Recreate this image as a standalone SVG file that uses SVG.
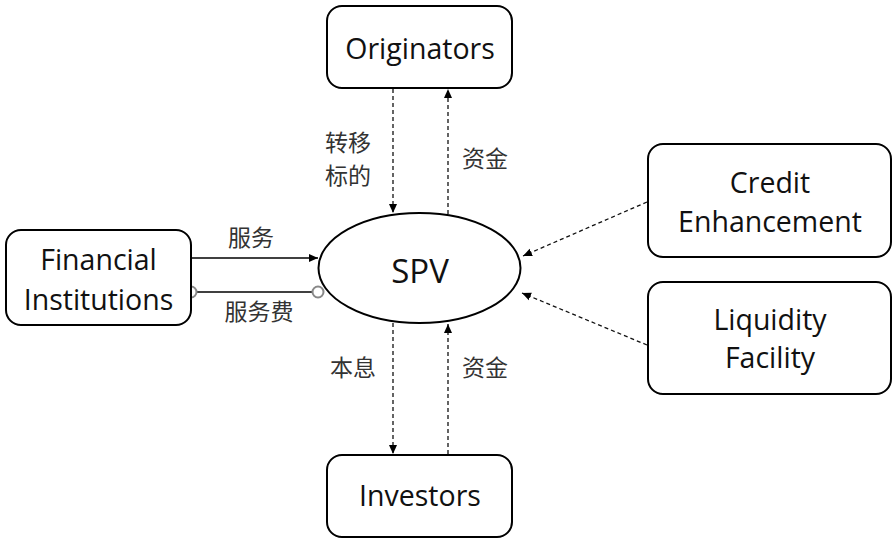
<svg xmlns="http://www.w3.org/2000/svg" width="893" height="538" viewBox="0 0 893 538">
<defs>
<marker id="ah" markerWidth="10" markerHeight="10" refX="9" refY="5" orient="auto" markerUnits="userSpaceOnUse">
<path d="M0,1 L9,5 L0,9 Z" fill="#000"/>
</marker>
<style>
.box{fill:#fff;stroke:#000;stroke-width:2}
.lbl{font-family:"Open Sans","Liberation Sans",sans-serif;font-size:28.5px;fill:#111;text-anchor:middle}
.cn{font-family:"Liberation Sans","Noto Sans CJK SC",sans-serif;font-size:23px;fill:#333;text-anchor:middle}
.dash{stroke:#111;stroke-width:1.3;stroke-dasharray:4,3;fill:none}
.solid{stroke:#000;stroke-width:1.5;fill:none}
</style>
</defs>
<rect width="893" height="538" fill="#fff"/>
<g id="connectors">
<line class="dash" x1="393" y1="89" x2="393" y2="213" marker-end="url(#ah)"/>
<line class="dash" x1="448" y1="214" x2="448" y2="89" marker-end="url(#ah)"/>
<line class="dash" x1="393" y1="323" x2="393" y2="454" marker-end="url(#ah)"/>
<line class="dash" x1="448" y1="454" x2="448" y2="324" marker-end="url(#ah)"/>
<line class="dash" x1="647" y1="202" x2="523" y2="256" marker-end="url(#ah)"/>
<line class="dash" x1="647" y1="345" x2="522" y2="293" marker-end="url(#ah)"/>
<line class="solid" x1="192" y1="258" x2="318" y2="258" marker-end="url(#ah)"/>
<line class="solid" x1="192" y1="292" x2="318" y2="292"/>
<circle cx="191" cy="292" r="5.5" fill="#fff" stroke="#888" stroke-width="2"/>
<circle cx="318" cy="292" r="5.5" fill="#fff" stroke="#888" stroke-width="2"/>
<text class="cn" x="348" y="151">转移</text>
<text class="cn" x="348" y="184">标的</text>
<text class="cn" x="485" y="167">资金</text>
<text class="cn" x="251" y="246">服务</text>
<text class="cn" x="259" y="320">服务费</text>
<text class="cn" x="353" y="376">本息</text>
<text class="cn" x="485" y="376">资金</text>
</g>
<g id="originators">
<rect class="box" x="327" y="6" width="185" height="82" rx="15"/>
<text class="lbl" x="420" y="59">Originators</text>
</g>
<g id="spv">
<ellipse cx="419.5" cy="268" rx="101" ry="55" fill="#fff" stroke="#000" stroke-width="2"/>
<text class="lbl" x="420" y="283" style="font-size:33px">SPV</text>
</g>
<g id="financial-institutions">
<rect class="box" x="6" y="230" width="185" height="95" rx="15"/>
<text class="lbl" x="98.5" y="270">Financial</text>
<text class="lbl" x="98.5" y="310">Institutions</text>
</g>
<g id="credit-enhancement">
<rect class="box" x="648" y="144" width="243" height="113" rx="15"/>
<text class="lbl" x="770" y="193">Credit</text>
<text class="lbl" x="770" y="232">Enhancement</text>
</g>
<g id="liquidity-facility">
<rect class="box" x="648" y="282" width="243" height="112" rx="15"/>
<text class="lbl" x="770" y="330">Liquidity</text>
<text class="lbl" x="770" y="368">Facility</text>
</g>
<g id="investors">
<rect class="box" x="327" y="455" width="185" height="82" rx="15"/>
<text class="lbl" x="420" y="506">Investors</text>
</g>
</svg>
